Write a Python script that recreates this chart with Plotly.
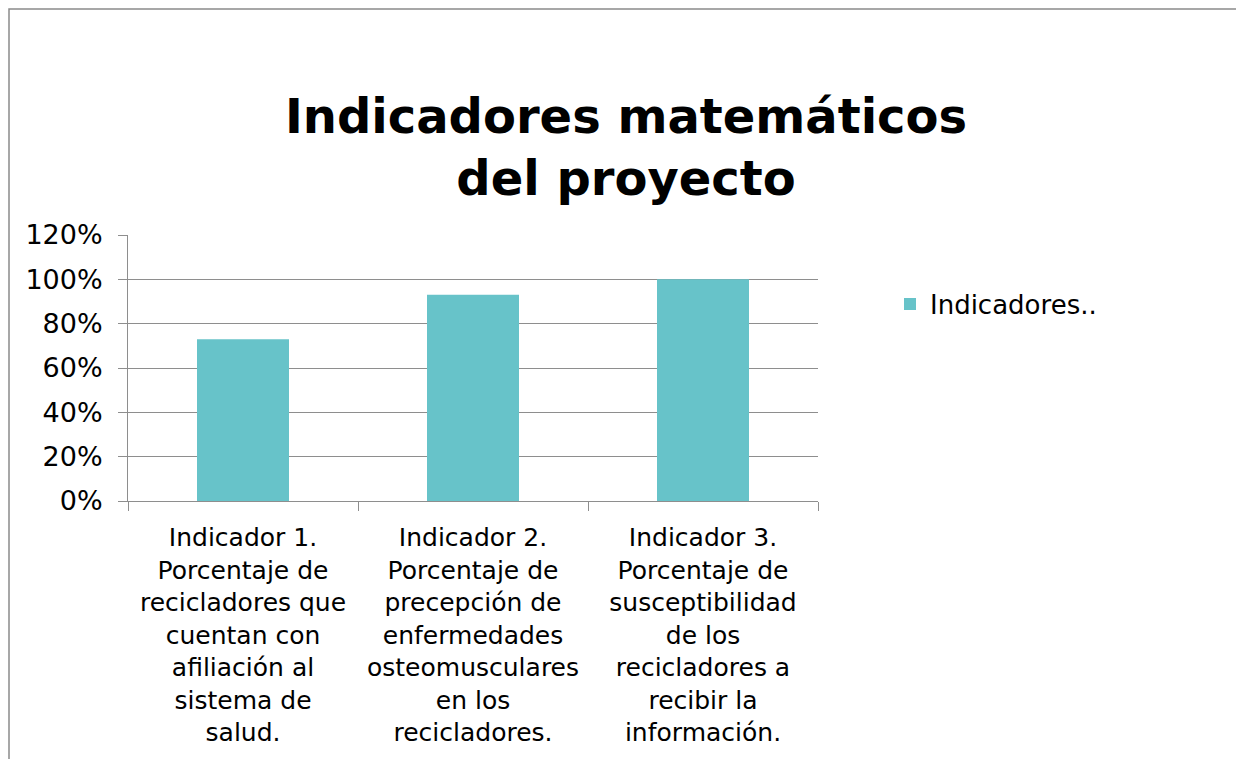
import plotly.graph_objects as go

categories = [
    "Indicador 1.<br>Porcentaje de<br>recicladores que<br>cuentan con<br>afiliación al<br>sistema de<br>salud.",
    "Indicador 2.<br>Porcentaje de<br>precepción de<br>enfermedades<br>osteomusculares<br>en los<br>recicladores.",
    "Indicador 3.<br>Porcentaje de<br>susceptibilidad<br>de los<br>recicladores a<br>recibir la<br>información.",
]
values = [0.73, 0.93, 1.00]
series_name = "Indicadores.."
title_text = "Indicadores matemáticos<br>del proyecto"

FONT = "Verdana, DejaVu Sans, sans-serif"
BAR = "#67C3C9"
GRID = "#8E8E8E"

OFF = 8  # page body margin
W, H = 1244 - OFF, 759 - OFF
# plot area in screenshot coordinates
PX0, PX1, PY0, PY1 = 128, 818, 235, 501
L = PX0 - OFF
T = PY0 - OFF
pw, ph = PX1 - PX0, PY1 - PY0
R = W - L - pw
B = H - T - ph

def px_x(x):
    return (x - PX0) / pw

def px_y(y):
    return (PY1 - y) / ph

fig = go.Figure()
fig.add_trace(go.Bar(x=categories, y=values, name=series_name,
                     marker=dict(color=BAR, line=dict(width=0)),
                     showlegend=True))

fig.update_layout(
    width=W, height=H,
    margin=dict(l=L, r=R, t=T, b=B, autoexpand=False),
    paper_bgcolor="white", plot_bgcolor="white",
    font=dict(family=FONT, size=26, color="black"),
    bargap=0.6,
    title=dict(text="<b>" + title_text + "</b>", font=dict(family=FONT, size=48, color="black"),
               x=(626 - OFF) / W, xanchor="center", xref="container",
               y=1 - 125 / H, yanchor="top", yref="container"),
    legend=dict(x=px_x(890), y=px_y(304), xanchor="left", yanchor="middle",
                font=dict(family=FONT, size=26, color="black"),
                bgcolor="rgba(0,0,0,0)", itemsizing="constant"),
    xaxis=dict(showline=True, linecolor=GRID, linewidth=1,
               ticks="outside", tickson="boundaries", ticklen=9, tickcolor=GRID,
               tickangle=0, showgrid=False, ticklabelstandoff=14,
               tickfont=dict(family=FONT, size=25, color="black")),
    yaxis=dict(range=[0, 1.2], dtick=0.2, tickformat=".0%",
               showline=True, linecolor=GRID, linewidth=1,
               ticks="outside", ticklen=9, tickcolor=GRID,
               showgrid=True, gridcolor=GRID, gridwidth=1, zeroline=False,
               ticklabelstandoff=10,
               tickfont=dict(family=FONT, size=27, color="black")),
    shapes=[dict(type="rect", xref="paper", yref="paper",
                 x0=px_x(OFF + 1), x1=px_x(1238), y0=px_y(790), y1=px_y(OFF + 1),
                 line=dict(color="#8A8A8A", width=1.5), fillcolor="rgba(0,0,0,0)",
                 layer="below")],
)

fig.write_html("out.html")
